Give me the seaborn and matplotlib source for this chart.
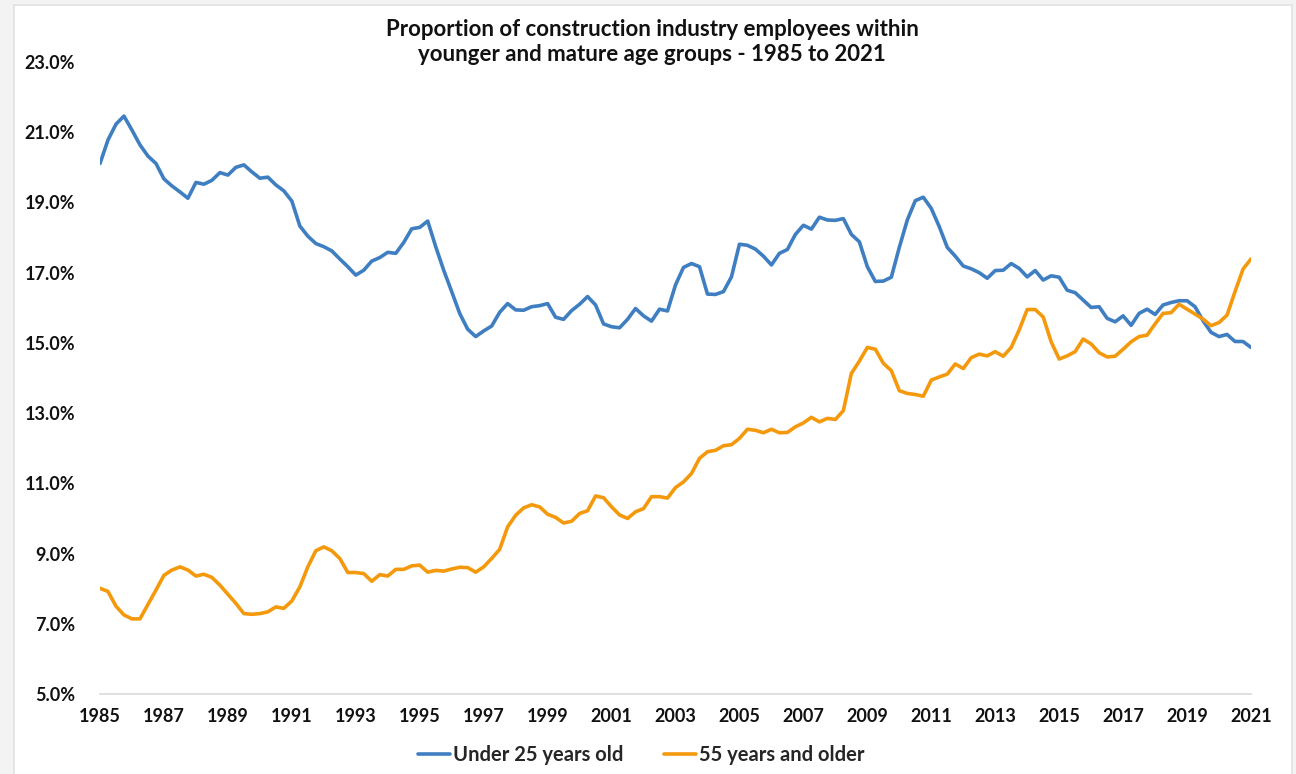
import numpy as np
import pandas as pd
import seaborn as sns
import matplotlib.pyplot as plt
from matplotlib.patches import Rectangle
from matplotlib.lines import Line2D

# quarterly shares (%), 1985 Q1 .. 2021 Q1
under_25 = [
    20.11, 20.78, 21.23, 21.46, 21.06, 20.64, 20.32, 20.11, 19.67, 19.47,
    19.30, 19.12, 19.57, 19.52, 19.63, 19.85, 19.78, 20.00, 20.07, 19.87,
    19.69, 19.72, 19.50, 19.33, 19.04, 18.33, 18.04, 17.83, 17.74, 17.62,
    17.39, 17.17, 16.93, 17.07, 17.33, 17.43, 17.58, 17.55, 17.86, 18.25,
    18.29, 18.47, 17.74, 17.07, 16.46, 15.84, 15.39, 15.18, 15.34, 15.48,
    15.87, 16.12, 15.94, 15.93, 16.03, 16.06, 16.12, 15.73, 15.67, 15.92,
    16.10, 16.32, 16.08, 15.54, 15.46, 15.43, 15.67, 15.98, 15.77, 15.62,
    15.96, 15.91, 16.65, 17.15, 17.26, 17.17, 16.39, 16.38, 16.46, 16.88,
    17.81, 17.78, 17.67, 17.47, 17.22, 17.55, 17.66, 18.09, 18.35, 18.24,
    18.58, 18.50, 18.49, 18.54, 18.09, 17.88, 17.17, 16.75, 16.76, 16.87,
    17.72, 18.50, 19.05, 19.15, 18.83, 18.31, 17.72, 17.47, 17.19, 17.11,
    17.00, 16.84, 17.06, 17.07, 17.26, 17.12, 16.88, 17.06, 16.79, 16.91,
    16.87, 16.50, 16.43, 16.22, 16.01, 16.03, 15.70, 15.60, 15.77, 15.50,
    15.84, 15.96, 15.81, 16.08, 16.15, 16.20, 16.20, 16.03, 15.63, 15.30,
    15.18, 15.24, 15.04, 15.04, 14.87,
]
over_55 = [
    8.01, 7.92, 7.50, 7.25, 7.14, 7.14, 7.55, 7.96, 8.38, 8.53,
    8.62, 8.53, 8.36, 8.41, 8.32, 8.10, 7.84, 7.58, 7.29, 7.27,
    7.29, 7.34, 7.48, 7.44, 7.65, 8.05, 8.62, 9.08, 9.19, 9.08,
    8.86, 8.46, 8.46, 8.43, 8.21, 8.40, 8.36, 8.55, 8.55, 8.65,
    8.67, 8.47, 8.52, 8.50, 8.56, 8.61, 8.60, 8.47, 8.62, 8.86,
    9.12, 9.76, 10.09, 10.30, 10.39, 10.33, 10.12, 10.03, 9.87, 9.92,
    10.14, 10.22, 10.64, 10.59, 10.33, 10.10, 10.00, 10.19, 10.28, 10.62,
    10.62, 10.58, 10.88, 11.04, 11.28, 11.71, 11.90, 11.94, 12.07, 12.10,
    12.28, 12.54, 12.51, 12.44, 12.54, 12.44, 12.45, 12.61, 12.72, 12.88,
    12.75, 12.85, 12.82, 13.07, 14.13, 14.48, 14.87, 14.82, 14.42, 14.21,
    13.64, 13.56, 13.53, 13.48, 13.94, 14.03, 14.11, 14.40, 14.27, 14.58,
    14.68, 14.63, 14.75, 14.62, 14.87, 15.37, 15.95, 15.95, 15.74, 15.03,
    14.54, 14.63, 14.75, 15.11, 14.97, 14.72, 14.60, 14.62, 14.82, 15.03,
    15.18, 15.22, 15.54, 15.84, 15.86, 16.10, 15.96, 15.82, 15.68, 15.49,
    15.58, 15.79, 16.46, 17.10, 17.39,
]
series_names = ["Under 25 years old", "55 years and older"]
colors = ["#3f7fc1", "#f5990c"]
year_ticks = list(range(1985, 2022, 2))
pct_ticks = [5, 7, 9, 11, 13, 15, 17, 19, 21, 23]

quarters = 1985 + np.arange(len(under_25)) / 4
df = pd.concat([
    pd.DataFrame({"year": quarters, "share": under_25, "group": series_names[0]}),
    pd.DataFrame({"year": quarters, "share": over_55, "group": series_names[1]}),
])

sns.set_style("white")
plt.rcParams["font.family"] = ["Lato", "DejaVu Sans"]

fig = plt.figure(figsize=(12.96, 7.74), dpi=100, facecolor="#f3f3f3")
fig.patches.append(Rectangle((14 / 1296, -0.05), (1292 - 14) / 1296, 1.05 - 5 / 774,
                             transform=fig.transFigure, facecolor="white",
                             edgecolor="#e2e2e2", linewidth=1.2, zorder=-10))
ax = fig.add_axes([100 / 1296, 80 / 774, 1151 / 1296, 632 / 774])
ax.set_facecolor("none")

sns.lineplot(data=df, x="year", y="share", hue="group", palette=colors,
             linewidth=2.6, legend=False, ax=ax)

ax.set_xlim(1985, 2021)
ax.set_ylim(5, 23)
ax.set_xticks(year_ticks)
ax.set_xticklabels([str(y) for y in year_ticks], fontsize=13, fontweight="bold")
ax.set_yticks(pct_ticks)
ax.set_yticklabels([f"{v:.1f}%" for v in pct_ticks], fontsize=13, fontweight="bold")
ax.set_xlabel("")
ax.set_ylabel("")
for side in ["left", "top", "right"]:
    ax.spines[side].set_visible(False)
ax.spines["bottom"].set_color("#d9d9d9")
ax.spines["bottom"].set_linewidth(1.2)
ax.tick_params(axis="x", length=5, width=1.2, color="#d9d9d9", pad=5, labelcolor="#111111")
ax.tick_params(axis="y", length=0, pad=18, labelcolor="#111111")

fig.text(652 / 1296, 1 - 42 / 774,
         "Proportion of construction industry employees within\nyounger and mature age groups - 1985 to 2021",
         ha="center", va="center", fontsize=16, fontweight="bold", color="#111111",
         linespacing=1.2)

handles = [Line2D([], [], color=c, linewidth=2.6) for c in colors]
fig.legend(handles, series_names, loc="center", bbox_to_anchor=(641 / 1296, 1 - 755 / 774),
           ncol=2, frameon=False, handlelength=1.6, handletextpad=0.15,
           columnspacing=2.0, prop={"weight": "bold", "size": 14.5})

fig.savefig("out.png", dpi=100, facecolor=fig.get_facecolor())
